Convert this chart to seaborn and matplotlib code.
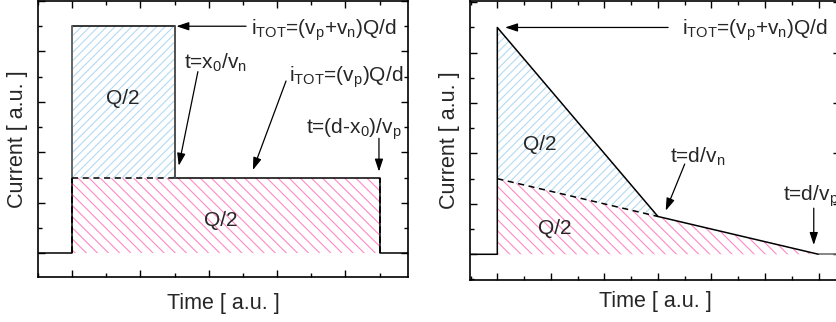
import matplotlib
matplotlib.use('Agg')
import matplotlib.pyplot as plt
import seaborn as sns

# ---- uniform field (left panel) ----
left_t = [-1.0, 0, 0, 3, 3, 9, 9, 9.83]
left_i = [0, 0, 9, 9, 3, 3, 0, 0]
left_tn = 3        # t = x0/vn
left_tp = 9        # t = (d-x0)/vp
left_itot = 9      # (vp+vn)Q/d
left_ip = 3        # (vp)Q/d

# ---- linear field (right panel) ----
right_t = [-1.02, 0, 0, 6, 12]
right_i = [0, 0, 9, 1.5, 0]
hole_t = [0, 6, 12]
hole_i = [3, 1.5, 0]
tail_t = [12, 12.8]
tail_i = [0, 0]

blue = '#b3daf2'
pink = '#ff88c6'

sns.set_style('ticks')
plt.rcParams['font.family'] = ['Liberation Sans', 'DejaVu Sans']
plt.rcParams['mathtext.default'] = 'regular'
plt.rcParams['hatch.linewidth'] = 0.8
fs = 15

fig = plt.figure(figsize=(8.37, 3.22), dpi=100)
ax1 = fig.add_axes([38 / 837, 1 - 277.3 / 322, 370 / 837, 276.3 / 322])
ax2 = fig.add_axes([470 / 837, 1 - 280 / 322, 370 / 837, 279 / 322])

arrow = dict(arrowstyle='-|>,head_length=0.75,head_width=0.25', color='k',
             lw=0.9, mutation_scale=10, shrinkA=0, shrinkB=0)

# left panel
ax1.fill_between([0, left_tn], left_ip, left_itot, facecolor='none',
                 edgecolor=blue, hatch='////', linewidth=0)
ax1.fill_between([0, left_tp], 0, left_ip, facecolor='none',
                 edgecolor=pink, hatch='\\\\\\', linewidth=0)
sns.lineplot(x=left_t, y=left_i, sort=False, estimator=None, color='k', lw=1.1, ax=ax1)
ax1.plot([0, 0], [left_ip, left_itot], color='0.45', lw=1.2)
ax1.plot([left_tn, left_tn], [left_ip, left_itot], color='0.35', lw=1.2)
ax1.plot([0, left_tn], [left_ip, left_ip], color='k', ls=(0, (4, 3)), lw=1.1)
ax1.plot([0, 0], [0, left_ip], color='k', ls=(0, (4, 2)), lw=1.2)
ax1.plot([left_tp, left_tp], [0, left_ip], color='k', ls=(0, (4, 2)), lw=1.2)

ax1.annotate('', xy=(left_tn + 0.05, left_itot), xytext=(5.09, left_itot), arrowprops=arrow)
ax1.annotate('', xy=(3.12, 3.47), xytext=(3.68, 7.2), arrowprops=arrow)
ax1.annotate('', xy=(5.29, 3.3), xytext=(6.26, 6.83), arrowprops=arrow)
ax1.annotate('', xy=(left_tp - 0.02, 3.24), xytext=(left_tp - 0.02, 4.56), arrowprops=arrow)
ax1.text(5.24, 8.85, r'$i_{TOT}$=(v$_p$+v$_n$)Q/d', fontsize=fs, va='center')
ax1.text(3.27, 7.53, r't=x$_0$/v$_n$', fontsize=fs, va='center')
ax1.text(6.36, 6.96, r'$i_{TOT}$=(v$_p$)Q/d', fontsize=fs, va='center')
ax1.text(6.85, 4.93, r't=(d-x$_0$)/v$_p$', fontsize=fs, va='center')
ax1.text(1.48, 6.14, 'Q/2', fontsize=fs, ha='center', va='center')
ax1.text(4.36, 1.32, 'Q/2', fontsize=fs, ha='center', va='center')

# right panel
ax2.fill_between(hole_t[:2], hole_i[:2], right_i[2:4], facecolor='none',
                 edgecolor=blue, hatch='////', linewidth=0)
ax2.fill_between(hole_t, 0, hole_i, facecolor='none',
                 edgecolor=pink, hatch='\\\\\\', linewidth=0)
sns.lineplot(x=right_t, y=right_i, sort=False, estimator=None, color='k', lw=1.1, ax=ax2)
sns.lineplot(x=tail_t, y=tail_i, sort=False, estimator=None, color='0.4', lw=1.1, ax=ax2)
ax2.plot(hole_t[:2], hole_i[:2], color='k', ls=(0, (4, 3)), lw=1.1)

ax2.annotate('', xy=(0.29, right_i[2]), xytext=(6.38, right_i[2]), arrowprops=arrow)
ax2.annotate('', xy=(6.29, 1.73), xytext=(7.0, 3.58), arrowprops=arrow)
ax2.annotate('', xy=(11.82, 0.37), xytext=(11.82, 1.83), arrowprops=arrow)
ax2.text(6.88, 8.88, r'$i_{TOT}$=(v$_p$+v$_n$)Q/d', fontsize=fs, va='center')
ax2.text(6.44, 3.85, r't=d/v$_n$', fontsize=fs, va='center')
ax2.text(10.67, 2.29, r't=d/v$_p$', fontsize=fs, va='center')
ax2.text(1.59, 4.34, 'Q/2', fontsize=fs, ha='center', va='center')
ax2.text(2.15, 1.03, 'Q/2', fontsize=fs, ha='center', va='center')

for ax, pad in ((ax1, 11), (ax2, 8)):
    ax.set_xticks(range(0, 14, 2))
    ax.set_xticks(range(-1, 14), minor=True)
    ax.set_yticks(range(0, 11, 2))
    ax.set_yticks(range(-1, 11), minor=True)
    ax.tick_params(which='both', direction='in', top=True, right=True,
                   labelbottom=False, labelleft=False, width=1, color='k')
    ax.tick_params(which='major', length=5)
    ax.tick_params(which='minor', length=3)
    for s in ax.spines.values():
        s.set_linewidth(1.2)
        s.set_color('k')
    ax.set_xlabel('Time [ a.u. ]', fontsize=15.5, labelpad=pad)
    ax.set_ylabel('Current [ a.u. ]', fontsize=15.5, labelpad=7)

ax1.set_xlim(-1.0, 9.83)
ax1.set_ylim(-0.95, 10.0)
ax2.set_xlim(-1.02, 12.8)
ax2.set_ylim(-1.02, 10.05)

fig.savefig('out.png', dpi=100)
